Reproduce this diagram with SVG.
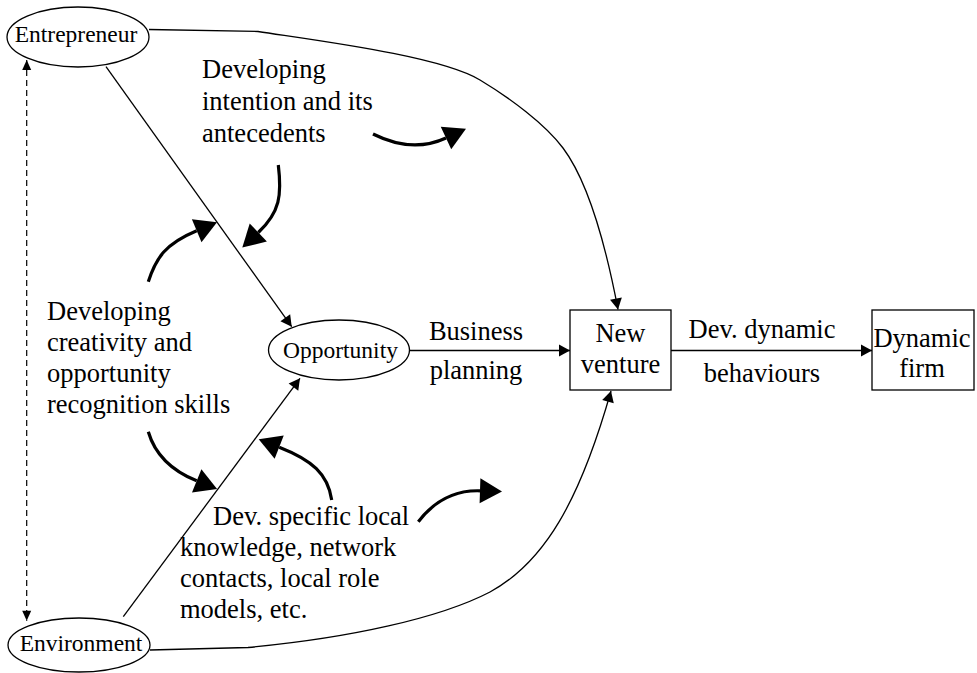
<svg xmlns="http://www.w3.org/2000/svg" width="977" height="673" viewBox="0 0 977 673">
<style>
.t{font-family:"Liberation Serif","Times New Roman",serif;font-size:26.5px;fill:#000}
.n{font-size:23.5px}
.m{text-anchor:middle}
.shape{fill:#fff;stroke:#000;stroke-width:1.3}
.edge{fill:none;stroke:#000;stroke-width:1.3}
.dash{fill:none;stroke:#000;stroke-width:1.2;stroke-dasharray:6 4}
.thick{fill:none;stroke:#000;stroke-width:3.2}
</style>
<defs>
<marker id="arr" markerUnits="userSpaceOnUse" markerWidth="12" markerHeight="12" refX="11" refY="6" orient="auto" overflow="visible">
<path d="M0,0 L11,6 L0,12 z" fill="#000"/>
</marker>
<marker id="sarr" markerUnits="userSpaceOnUse" markerWidth="10" markerHeight="9" refX="10" refY="4.5" orient="auto-start-reverse" overflow="visible">
<path d="M0,0 L10,4.5 L0,9 z" fill="#000"/>
</marker>
<marker id="big" markerUnits="userSpaceOnUse" markerWidth="23" markerHeight="25" refX="0" refY="12.5" orient="auto" overflow="visible">
<path d="M0,0 L22,12.5 L0,25 z" fill="#000"/>
</marker>
</defs>

<g id="connectors">
<line class="edge" x1="106" y1="66.7" x2="291.7" y2="326.7" marker-end="url(#arr)"/>
<line class="edge" x1="123.3" y1="616.7" x2="300" y2="378.3" marker-end="url(#arr)"/>
<line class="edge" x1="409.5" y1="350.5" x2="570" y2="350.5" marker-end="url(#arr)"/>
<line class="edge" x1="671" y1="350.5" x2="872" y2="350.5" marker-end="url(#arr)"/>
<path class="edge" d="M149,29.5 L258,31.5 C320,41 440,56 480,80 C510,98 545,124 563,148 C581,172 600,215 618,309.5" marker-end="url(#arr)"/>
<path class="edge" d="M150,650 L248,647.5 C350,638 440,618 490,592 C545,562 580,500 611,391" marker-end="url(#arr)"/>
<line class="dash" x1="26.7" y1="60" x2="26.7" y2="620.7" marker-start="url(#sarr)" marker-end="url(#sarr)"/>
<path class="thick" d="M373,134 C395,145 420,150 446,138" marker-end="url(#big)"/>
<path class="thick" d="M278.3,165 C282,195 280,212 258.3,232.5" marker-end="url(#big)"/>
<path class="thick" d="M148.3,281.7 C156,258 165,244 196.7,230.8" marker-end="url(#big)"/>
<path class="thick" d="M148.3,431.7 C156,458 175,472 196.7,480.8" marker-end="url(#big)"/>
<path class="thick" d="M331.7,500 C328,474 312,460 279.2,447.2" marker-end="url(#big)"/>
<path class="thick" d="M418.3,521.7 C435,500 455,490 480,490.8" marker-end="url(#big)"/>
</g>

<g id="entrepreneur">
<ellipse class="shape" cx="78" cy="37" rx="71" ry="30"/>
<text class="t n m" x="76" y="42">Entrepreneur</text>
</g>
<g id="environment">
<ellipse class="shape" cx="79" cy="645" rx="71" ry="27"/>
<text class="t n m" x="81" y="651">Environment</text>
</g>
<g id="opportunity">
<ellipse class="shape" cx="339" cy="350" rx="70.5" ry="30"/>
<text class="t n m" x="340.5" y="358">Opportunity</text>
</g>
<g id="new-venture">
<rect class="shape" x="570" y="310" width="101" height="80"/>
<text class="t m" x="620.5" y="341.7">New</text>
<text class="t m" x="620.5" y="373.3">venture</text>
</g>
<g id="dynamic-firm">
<rect class="shape" x="872" y="310" width="102" height="80"/>
<text class="t m" x="922" y="346.7">Dynamic</text>
<text class="t m" x="922" y="377.3">firm</text>
</g>

<g id="label-business-planning">
<text class="t m" x="476" y="340">Business</text>
<text class="t m" x="476" y="379">planning</text>
</g>
<g id="label-dev-dynamic">
<text class="t m" x="762" y="338">Dev. dynamic</text>
<text class="t m" x="762" y="381.7">behaviours</text>
</g>
<g id="label-intention">
<text class="t" x="202" y="78">Developing</text>
<text class="t" x="202" y="110">intention and its</text>
<text class="t" x="202" y="142">antecedents</text>
</g>
<g id="label-creativity">
<text class="t" x="47" y="320">Developing</text>
<text class="t" x="47" y="351">creativity and</text>
<text class="t" x="47" y="382">opportunity</text>
<text class="t" x="47" y="413">recognition skills</text>
</g>
<g id="label-local">
<text class="t" x="213" y="525">Dev. specific local</text>
<text class="t" x="180" y="556">knowledge, network</text>
<text class="t" x="180" y="587">contacts, local role</text>
<text class="t" x="180" y="618">models, etc.</text>
</g>
</svg>
